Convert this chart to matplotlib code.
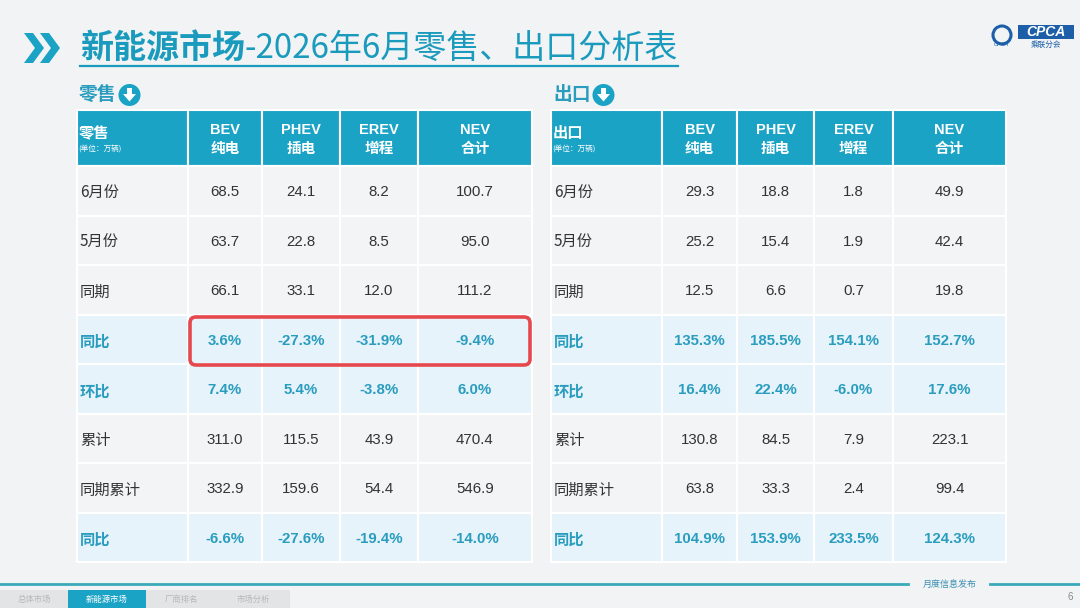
import matplotlib
matplotlib.use("Agg")
import matplotlib.pyplot as plt
from matplotlib.patches import Rectangle, FancyBboxPatch, Circle, Polygon

plt.rcParams['font.family'] = ['Liberation Sans', 'Noto Sans CJK SC', 'DejaVu Sans']

# ---------------- data ----------------
title_bold = "新能源市场"
title_rest = "-2026年6月零售、出口分析表"
row_labels = ['6月份', '5月份', '同期', '同比', '环比', '累计', '同期累计', '同比']
pct_rows = [3, 4, 7]
col_heads = [('BEV', '纯电'), ('PHEV', '插电'), ('EREV', '增程'), ('NEV', '合计')]

retail_bev = [68.5, 63.7, 66.1, 3.6, 7.4, 311.0, 332.9, -6.6]
retail_phev = [24.1, 22.8, 33.1, -27.3, 5.4, 115.5, 159.6, -27.6]
retail_erev = [8.2, 8.5, 12.0, -31.9, -3.8, 43.9, 54.4, -19.4]
retail_nev = [100.7, 95.0, 111.2, -9.4, 6.0, 470.4, 546.9, -14.0]

export_bev = [29.3, 25.2, 12.5, 135.3, 16.4, 130.8, 63.8, 104.9]
export_phev = [18.8, 15.4, 6.6, 185.5, 22.4, 84.5, 33.3, 153.9]
export_erev = [1.8, 1.9, 0.7, 154.1, -6.0, 7.9, 2.4, 233.5]
export_nev = [49.9, 42.4, 19.8, 152.7, 17.6, 223.1, 99.4, 124.3]

footer_tabs = ['总体市场', '新能源市场', '厂商排名', '市场分析']
active_tab = 1
page_no = "6"

# ---------------- style ----------------
BG = '#f2f3f4'
TEAL = '#1ba3c6'
TEXT_TEAL = '#2a9dbf'
HL = '#e6f3fa'
DARK = '#333333'

fig = plt.figure(figsize=(10.8, 6.08), dpi=100)
fig.patch.set_facecolor(BG)
ax = fig.add_axes([0, 0, 1, 1])
ax.set_xlim(0, 1080)
ax.set_ylim(608, 0)
ax.axis('off')
ax.set_facecolor(BG)

# title chevrons
for x0 in (24, 40):
    ax.add_patch(Polygon([(x0, 33), (x0 + 9, 33), (x0 + 20, 48), (x0 + 9, 63), (x0, 63), (x0 + 11, 48)],
                         closed=True, color=TEAL, lw=0))

t1 = ax.text(80, 48, title_bold, fontsize=23.8, fontweight='bold', color='#1a9bbd',
             va='center', ha='left', family=['Noto Sans CJK SC'])
fig.canvas.draw()
r = fig.canvas.get_renderer()
bb = t1.get_window_extent(r)
t2 = ax.text(bb.x1, 48, title_rest, fontsize=23.8, color='#1a9bbd', va='center', ha='left',
             family=['Noto Sans CJK SC'])
fig.canvas.draw()
bb2 = t2.get_window_extent(r)
ax.plot([80, bb2.x1], [66, 66], color='#1a9bbd', lw=1.6)

# logo
ax.add_patch(FancyBboxPatch((1018, 25), 56, 14, boxstyle='square,pad=0', color='#1c5fa8', lw=0))
ax.text(1046, 32.5, 'CPCA', fontsize=10, fontweight='bold', style='italic', color='white',
        ha='center', va='center')
ax.text(1046, 44.5, '乘联分会', fontsize=5.5, color='#1c5fa8', ha='center', va='center',
        family=['Noto Sans CJK SC'])
ax.add_patch(Circle((1002, 35), 9, fill=False, ec='#1c5fa8', lw=2.2))
ax.text(1001, 45, 'CPCA', fontsize=4, style='italic', color='#1c5fa8', ha='center', va='center')


def section_label(x, y, txt):
    t = ax.text(x, y, txt, fontsize=13.5, fontweight='bold', color=TEXT_TEAL, va='center', ha='left',
                family=['Noto Sans CJK SC'])
    fig.canvas.draw()
    b = t.get_window_extent(fig.canvas.get_renderer())
    cx = b.x1 + 13
    ax.add_patch(Circle((cx, y), 11, color=TEAL, lw=0))
    ax.add_patch(Polygon([(cx - 6.5, y - 1), (cx, y + 6.5), (cx + 6.5, y - 1)], closed=True, color='white', lw=0))
    ax.add_patch(Rectangle((cx - 2.2, y - 7.5), 4.4, 7.5, color='white', lw=0))


def draw_table(x_edges, title, cols):
    top = 110
    hh = 56
    rh = 49.5
    for i in range(5):
        ax.add_patch(Rectangle((x_edges[i], top), x_edges[i + 1] - x_edges[i], hh,
                               facecolor=TEAL, edgecolor='white', lw=1.5))
    ax.text(x_edges[0] + 2, top + 23, title, fontsize=11, fontweight='bold', color='white',
            ha='left', va='center', family=['Noto Sans CJK SC'])
    ax.text(x_edges[0] + 1, top + 39, '(单位：万辆)', fontsize=5.5, color='white',
            ha='left', va='center', family=['Noto Sans CJK SC'])
    for j, (en, zh) in enumerate(col_heads):
        cx = (x_edges[j + 1] + x_edges[j + 2]) / 2
        ax.text(cx, top + 20, en, fontsize=10.5, fontweight='bold', color='white',
                ha='center', va='center')
        ax.text(cx, top + 38, zh, fontsize=10.5, fontweight='bold', color='white',
                ha='center', va='center', family=['Noto Sans CJK SC'])
    for k, lab in enumerate(row_labels):
        y0 = top + hh + k * rh
        hl = k in pct_rows
        fc = HL if hl else '#f3f4f5'
        for i in range(5):
            ax.add_patch(Rectangle((x_edges[i], y0), x_edges[i + 1] - x_edges[i], rh,
                                   facecolor=fc, edgecolor='white', lw=1.5))
        yc = y0 + rh / 2 + 2.5
        if hl:
            ax.text(x_edges[0] + 3, yc, lab, fontsize=11, fontweight='bold', color=TEXT_TEAL,
                    ha='left', va='center', family=['Noto Sans CJK SC'])
        else:
            ax.text(x_edges[0] + 3, yc, lab, fontsize=11, color=DARK,
                    ha='left', va='center', family=['Noto Sans CJK SC'])
        for j, vals in enumerate(cols):
            cx = (x_edges[j + 1] + x_edges[j + 2]) / 2
            v = vals[k]
            if hl:
                ax.text(cx, yc - 1, f"{v:.1f}%", fontsize=10.8, fontweight='bold', color=TEXT_TEAL,
                        ha='center', va='center')
            else:
                ax.text(cx, yc - 1, f"{v:.1f}", fontsize=10.8, color=DARK, ha='center', va='center')


left_edges = [77, 188, 262, 340, 418, 532]
right_edges = [551, 662, 737, 814, 893, 1006]

section_label(79, 95, '零售')
section_label(553, 95, '出口')
draw_table(left_edges, '零售', [retail_bev, retail_phev, retail_erev, retail_nev])
draw_table(right_edges, '出口', [export_bev, export_phev, export_erev, export_nev])

# red highlight box
ax.add_patch(FancyBboxPatch((190, 317), 340, 48, boxstyle='round,pad=0,rounding_size=6',
                            fill=False, ec='#e5484d', lw=2.6))

# footer
ax.plot([0, 908], [584, 584], color='#3aa9b9', lw=2)
ax.plot([990, 1080], [584, 584], color='#3aa9b9', lw=2)
ax.text(950, 584, '月度信息发布', fontsize=6.5, style='italic', color='#3a8fb0', ha='center', va='center',
        family=['Noto Sans CJK SC'])
tab_edges = [0, 68, 146, 216, 290]
for i, lab in enumerate(footer_tabs):
    active = i == active_tab
    ax.add_patch(Rectangle((tab_edges[i], 590), tab_edges[i + 1] - tab_edges[i], 18,
                           facecolor=TEAL if active else '#e3e4e5', edgecolor='none'))
    ax.text((tab_edges[i] + tab_edges[i + 1]) / 2, 599, lab, fontsize=6,
            color='white' if active else '#b8b8b8', ha='center', va='center',
            family=['Noto Sans CJK SC'])
ax.text(1070, 597, page_no, fontsize=7, color='#888888', ha='center', va='center')

fig.savefig('out.png', dpi=100, facecolor=BG)
